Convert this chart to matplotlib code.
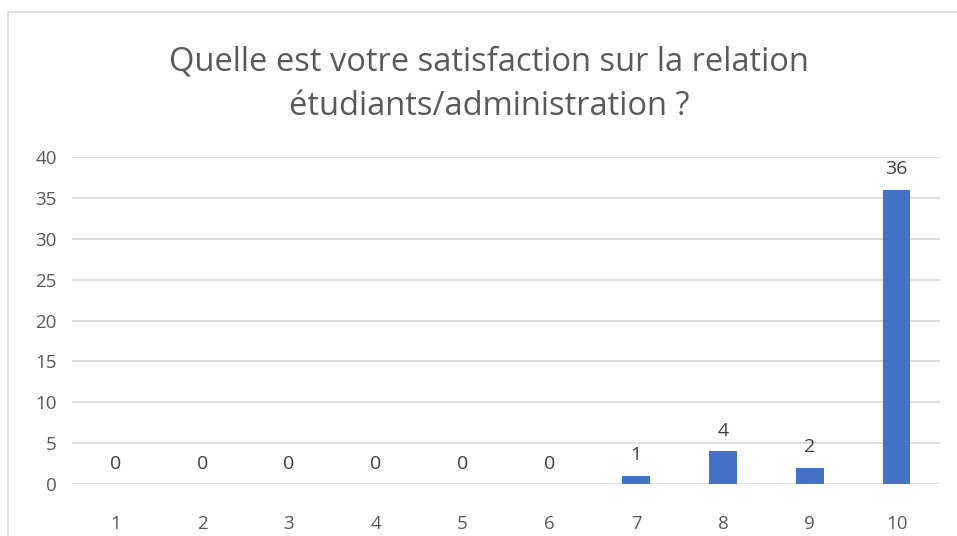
import matplotlib.pyplot as plt
from matplotlib.patches import Rectangle

categories = ['1', '2', '3', '4', '5', '6', '7', '8', '9', '10']
counts = [0, 0, 0, 0, 0, 0, 1, 4, 2, 36]

W, H = 957, 536
fig = plt.figure(figsize=(W / 100, H / 100), dpi=100)
plt.rcParams['font.family'] = ['Open Sans', 'DejaVu Sans']

# chart frame
fig.patches.append(Rectangle((8 / W, -0.1), 1.2, (H - 12) / H + 0.1,
                             transform=fig.transFigure, fill=False,
                             edgecolor='#D9D9D9', linewidth=1.2))

ax = fig.add_axes([72 / W, (H - 484) / H, (940 - 72) / W, (484 - 157) / H])
x = range(len(categories))
bars = ax.bar(x, counts, width=0.32, color='#4472C4', zorder=3)
for xi, v in zip(x, counts):
    ax.text(xi, v + 1.4, str(v), ha='center', va='bottom', fontsize=14, color='#404040')

ax.set_xlim(-0.5, len(categories) - 0.5)
ax.set_ylim(0, 40)
ax.set_yticks(range(0, 41, 5))
ax.set_xticks(list(x))
ax.set_xticklabels(categories)
ax.grid(axis='y', color='#D9D9D9', linewidth=1.2, zorder=0)
for s in ax.spines.values():
    s.set_visible(False)
ax.tick_params(length=0, labelsize=13.5, colors='#595959')
ax.tick_params(axis='x', pad=22)
ax.tick_params(axis='y', pad=11)

fig.text(489 / W, (H - 84) / H, 'Quelle est votre satisfaction sur la relation\nétudiants/administration ?',
         ha='center', va='center', fontsize=23.5, color='#595959', linespacing=1.45)

fig.savefig('out.png', dpi=100)
